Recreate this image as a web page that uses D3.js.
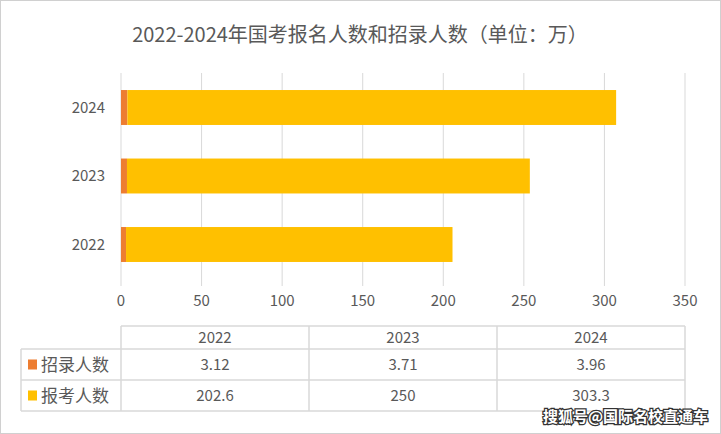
<!DOCTYPE html>
<html><head><meta charset="utf-8">
<script src="https://cdn.jsdelivr.net/npm/d3@7"></script>
<style>body{margin:0;background:#fff}text{font-family:"Noto Sans CJK SC","Noto Sans",sans-serif}</style>
</head><body>
<svg id="chart" width="721" height="434"></svg>
<script>
const years = ["2022", "2023", "2024"];
const seriesNames = ["招录人数", "报考人数"];
const hired = [3.12, 3.71, 3.96];
const applied = [202.6, 250, 303.3];
const hiredLabels = ["3.12", "3.71", "3.96"];
const appliedLabels = ["202.6", "250", "303.3"];
const colors = ["#ED7D31", "#FFC000"];
const ticks = [0, 50, 100, 150, 200, 250, 300, 350];

const svg = d3.select("#chart");
const grey = "#595959", line = "#d9d9d9";

svg.append("rect").attr("x", 0.5).attr("y", 0.5).attr("width", 720).attr("height", 433)
  .attr("fill", "#fff").attr("stroke", "#d0d0d0");

svg.append("text").attr("x", 360).attr("y", 42).attr("text-anchor", "middle")
  .attr("font-size", 20).attr("fill", grey).text("2022-2024年国考报名人数和招录人数（单位：万）");

const x = d3.scaleLinear().domain([0, 350]).range([121, 685]);
const y = d3.scaleBand().domain(years.slice().reverse()).range([73.25, 278.75])
  .paddingInner(0.49).paddingOuter(0.245);

// gridlines
svg.append("g").selectAll("line").data(ticks).join("line")
  .attr("x1", d => x(d)).attr("x2", d => x(d)).attr("y1", 73).attr("y2", 286)
  .attr("stroke", line);

svg.append("g").selectAll("text").data(ticks).join("text")
  .attr("x", d => x(d)).attr("y", 306).attr("text-anchor", "middle")
  .attr("font-size", 15).attr("fill", grey).text(d => d);

// stacked bars
const rows = years.map((yr, i) => ({yr, h: hired[i], a: applied[i]}));
const g = svg.append("g");
g.selectAll(".h").data(rows).join("rect")
  .attr("x", x(0)).attr("y", d => y(d.yr)).attr("height", y.bandwidth())
  .attr("width", d => x(d.h) - x(0)).attr("fill", colors[0]);
g.selectAll(".a").data(rows).join("rect")
  .attr("x", d => x(d.h)).attr("y", d => y(d.yr)).attr("height", y.bandwidth())
  .attr("width", d => x(d.h + d.a) - x(d.h)).attr("fill", colors[1]);

svg.append("g").selectAll("text").data(years).join("text")
  .attr("x", 105).attr("y", d => y(d) + y.bandwidth() / 2 + 5).attr("text-anchor", "end")
  .attr("font-size", 15).attr("fill", grey).text(d => d);

// data table
const rowY = [326, 349, 380, 411];
const colX = [121, 309, 497, 685];
const t = svg.append("g").attr("stroke", line).attr("stroke-width", 1.5);
t.append("line").attr("x1", 121).attr("x2", 685).attr("y1", rowY[0]).attr("y2", rowY[0]);
[1, 2, 3].forEach(r => t.append("line").attr("x1", 21).attr("x2", 685).attr("y1", rowY[r]).attr("y2", rowY[r]));
colX.forEach(cx => t.append("line").attr("x1", cx).attr("x2", cx).attr("y1", rowY[0]).attr("y2", rowY[3]));
t.append("line").attr("x1", 21).attr("x2", 21).attr("y1", rowY[1]).attr("y2", rowY[3]);

const cellText = (txt, cx, r) => svg.append("text").attr("x", cx).attr("y", (rowY[r] + rowY[r + 1]) / 2 + 5)
  .attr("text-anchor", "middle").attr("font-size", 15).attr("fill", grey).text(txt);
years.forEach((yr, i) => {
  const cx = (colX[i] + colX[i + 1]) / 2;
  cellText(yr, cx, 0);
  cellText(hiredLabels[i], cx, 1);
  cellText(appliedLabels[i], cx, 2);
});
seriesNames.forEach((s, i) => {
  const cy = (rowY[i + 1] + rowY[i + 2]) / 2;
  svg.append("rect").attr("x", 28).attr("y", cy - 5).attr("width", 9).attr("height", 10).attr("fill", colors[i]);
  svg.append("text").attr("x", 41).attr("y", cy + 6).attr("font-size", 17).attr("fill", grey).text(s);
});

svg.append("text").attr("x", 708).attr("y", 422).attr("text-anchor", "end")
  .attr("font-size", 15).attr("font-weight", "bold").attr("fill", "#fff")
  .attr("stroke", "#333").attr("stroke-width", 2.5).attr("paint-order", "stroke")
  .text("搜狐号@国际名校直通车");
</script>
</body></html>
